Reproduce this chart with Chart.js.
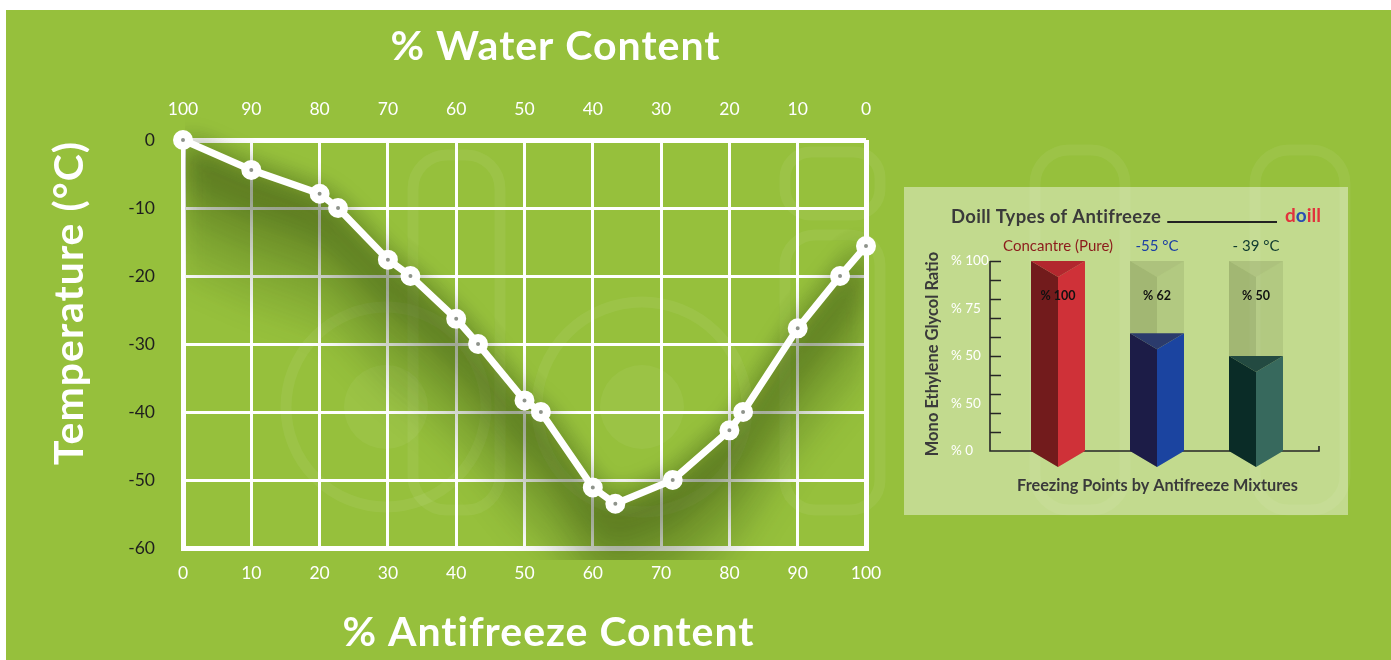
<!DOCTYPE html>
<html>
<head>
<meta charset="utf-8">
<title>Freezing Point of Antifreeze Mixtures</title>
<script src="https://cdn.jsdelivr.net/npm/chart.js@4.4.1/dist/chart.umd.min.js"></script>
<style>
  html, body { margin: 0; padding: 0; background: #ffffff; }
  #stage { position: relative; width: 1391px; height: 660px; overflow: hidden; }
  #bg { position: absolute; left: 6px; top: 10px; right: 0; bottom: 0; background: #96c03c; }
  #main { position: absolute; left: 0; top: 0; }
  #inset { position: absolute; left: 904px; top: 187px; background: rgba(255, 255, 255, 0.42); }
</style>
</head>
<body>
<div id="stage">
  <div id="bg"></div>
  <canvas id="main" width="1391" height="660"></canvas>
  <canvas id="inset" width="444" height="328"></canvas>
</div>
<script>
// ---- Freezing curve: % antifreeze (x) vs freezing temperature in °C (y)
const antifreezePct = [0, 10, 20, 22.7, 30, 33.3, 40, 43.2, 50, 52.4, 60, 63.3, 71.7, 80, 82, 90, 96.2, 100];
const freezingTemp  = [0, -4.4, -7.9, -10, -17.6, -20, -26.3, -30, -38.3, -40, -51.1, -53.5, -50, -42.7, -40, -27.7, -20, -15.6];

// ---- Product panel: glycol ratio of each antifreeze type
const mixtureLabels  = ['Concantre (Pure)', '-55 °C', '- 39 °C'];
const glycolRatio    = [100, 62, 50];
const containerLevel = [100, 100, 100];
const ratioTickValues = [0, 25, 50, 75, 100];
const ratioTickText   = ['% 0', '% 50', '% 50', '% 75', '% 100'];

const FONT = 'Lato, "Open Sans", sans-serif';

// Faint brand watermark behind the grid
const watermark = {
  id: 'watermark',
  beforeDraw(chart) {
    const ctx = chart.ctx;
    ctx.save();
    ctx.strokeStyle = 'rgba(255,255,255,0.06)';
    ctx.fillStyle = 'rgba(255,255,255,0.05)';
    ctx.lineWidth = 11;
    const ring = (cx, cy, r, ri) => {
      ctx.beginPath(); ctx.arc(cx, cy, r, 0, Math.PI * 2); ctx.stroke();
      ctx.beginPath(); ctx.arc(cx, cy, ri, 0, Math.PI * 2); ctx.fill();
    };
    const pill = (x0, y0, x1, y1, rad) => {
      ctx.beginPath(); ctx.roundRect(x0, y0, x1 - x0, y1 - y0, rad); ctx.stroke();
    };
    ring(386, 407, 100, 42);
    pill(413, 155, 500, 510, 34);
    ring(642, 407, 105, 42);
    pill(785, 152, 880, 215, 26);
    pill(785, 235, 880, 510, 30);
    pill(1035, 150, 1125, 510, 34);
    pill(1255, 150, 1345, 510, 34);
    ctx.restore();
  }
};

// Soft shadow that falls below the curve
const curveShadow = {
  id: 'curveShadow',
  beforeDatasetsDraw(chart) {
    const {ctx, chartArea: a} = chart;
    const pts = chart.getDatasetMeta(0).data.map(p => ({x: p.x, y: p.y}));
    ctx.save();
    ctx.beginPath();
    ctx.rect(a.left + 2, 0, a.right - a.left - 4, a.bottom + 12);
    ctx.clip();
    ctx.filter = 'blur(14px)';
    const layers = [[30, 0.22], [60, 0.19], [95, 0.15], [135, 0.12]];
    for (const [d, alpha] of layers) {
      ctx.beginPath();
      pts.forEach((p, i) => i ? ctx.lineTo(p.x, p.y) : ctx.moveTo(p.x, p.y));
      for (let i = pts.length - 1; i >= 0; i--) ctx.lineTo(pts[i].x, pts[i].y + d);
      ctx.closePath();
      ctx.fillStyle = `rgba(35,55,8,${alpha})`;
      ctx.fill();
    }
    ctx.restore();
  }
};

// Large axis titles
const bigTitles = {
  id: 'bigTitles',
  afterDraw(chart) {
    const {ctx, chartArea: a} = chart;
    const cx = (a.left + a.right) / 2;
    ctx.save();
    ctx.fillStyle = '#ffffff';
    ctx.font = `bold 41px ${FONT}`;
    ctx.letterSpacing = '1px';
    ctx.textAlign = 'center';
    ctx.textBaseline = 'middle';
    ctx.fillText('% Water Content', cx + 31, a.top - 93);
    ctx.fillText('% Antifreeze Content', cx + 24, a.bottom + 85);
    ctx.translate(a.left - 113, (a.top + a.bottom) / 2 - 41);
    ctx.rotate(-Math.PI / 2);
    ctx.fillText('Temperature (°C)', 0, 0);
    ctx.restore();
  }
};

const edgeWidth = (lo, hi) => c => (c.tick && (c.tick.value === lo || c.tick.value === hi)) ? 5 : 3;

new Chart(document.getElementById('main'), {
  type: 'line',
  data: {
    datasets: [{
      data: antifreezePct.map((x, i) => ({x, y: freezingTemp[i]})),
      borderColor: '#ffffff',
      backgroundColor: '#ffffff',
      borderWidth: 7,
      tension: 0,
      fill: false,
      clip: false,
      pointRadius: 6,
      pointBorderWidth: 8,
      pointBackgroundColor: '#8e938b',
      pointBorderColor: '#ffffff',
      pointHoverRadius: 6
    }]
  },
  options: {
    responsive: false,
    animation: false,
    devicePixelRatio: 1,
    layout: {padding: {left: 0, right: 525, top: 0, bottom: 0}},
    plugins: {legend: {display: false}, tooltip: {enabled: false}, colors: {enabled: false}},
    scales: {
      x: {
        type: 'linear', position: 'bottom', min: 0, max: 100,
        ticks: {stepSize: 10, color: '#ffffff', font: {family: FONT, size: 17.5}, padding: 15, maxRotation: 0},
        grid: {color: '#ffffff', lineWidth: edgeWidth(0, 100), drawTicks: false},
        border: {color: '#ffffff', width: 5},
        afterFit: s => { s.height = 112; }
      },
      x2: {
        type: 'linear', position: 'top', min: 0, max: 100, reverse: true,
        ticks: {stepSize: 10, color: '#ffffff', font: {family: FONT, size: 17.5}, padding: 20, maxRotation: 0},
        grid: {display: false, drawTicks: false},
        border: {display: false},
        afterFit: s => { s.height = 140; }
      },
      y: {
        type: 'linear', min: -60, max: 0,
        ticks: {stepSize: 10, color: '#1e1e1e', font: {family: FONT, size: 17.5}, padding: 28},
        grid: {color: '#ffffff', lineWidth: edgeWidth(-60, 0), drawTicks: false},
        border: {color: '#ffffff', width: 5},
        afterFit: s => { s.width = 183; }
      }
    }
  },
  plugins: [watermark, curveShadow, bigTitles]
});

// ---- Product panel
const faceColors = [
  // [left face, right face, top face] for each column
  ['#721b1c', '#cf3138', '#b2272e'],
  ['#1c1c47', '#1b44a0', '#2b3b6c'],
  ['#0a2c27', '#37695d', '#234a41']
];
const containerFaces = ['rgba(60,70,30,0.24)', 'rgba(60,70,30,0.12)', 'rgba(60,70,30,0.16)'];
const labelColors = ['#8b1b1b', '#1b3fa3', '#0f3a2f'];

function drawPrism(ctx, x, top, base, w, dip, cols) {
  const l = x - w / 2, r = x + w / 2;
  ctx.fillStyle = cols[0];
  ctx.beginPath(); ctx.moveTo(l, top); ctx.lineTo(x, top + dip); ctx.lineTo(x, base + dip); ctx.lineTo(l, base); ctx.closePath(); ctx.fill();
  ctx.fillStyle = cols[1];
  ctx.beginPath(); ctx.moveTo(x, top + dip); ctx.lineTo(r, top); ctx.lineTo(r, base); ctx.lineTo(x, base + dip); ctx.closePath(); ctx.fill();
  ctx.fillStyle = cols[2];
  ctx.beginPath(); ctx.moveTo(l, top); ctx.lineTo(r, top); ctx.lineTo(x, top + dip); ctx.closePath(); ctx.fill();
}

const panelAxes = {
  id: 'panelAxes',
  beforeDatasetsDraw(chart) {
    const {ctx, chartArea: a} = chart;
    const ys = chart.scales.y;
    const axX = a.left - 18.5, endX = a.right + 13.5;
    const y0 = ys.getPixelForValue(0), y100 = ys.getPixelForValue(100);
    ctx.save();
    ctx.strokeStyle = '#262626';
    ctx.lineWidth = 1.6;
    ctx.beginPath();
    ctx.moveTo(axX, y100); ctx.lineTo(axX, y0); ctx.lineTo(endX, y0); ctx.lineTo(endX, y0 - 5);
    for (let v = 10; v <= 100; v += 10) {
      const py = Math.round(ys.getPixelForValue(v)) + 0.5;
      ctx.moveTo(axX, py); ctx.lineTo(axX + 11, py);
    }
    ctx.stroke();
    ctx.restore();
  }
};

const prismBars = {
  id: 'prismBars',
  afterDatasetsDraw(chart) {
    const {ctx, chartArea: a} = chart;
    ctx.save();
    chart.data.datasets.forEach((ds, di) => {
      chart.getDatasetMeta(di).data.forEach((bar, i) => {
        const cols = di === 0 ? containerFaces : faceColors[i];
        drawPrism(ctx, bar.x, bar.y, bar.base, bar.width, 16, cols);
      });
    });
    // value labels inside each column
    const meta = chart.getDatasetMeta(1);
    ctx.fillStyle = '#111111';
    ctx.font = `bold 12.5px ${FONT}`;
    ctx.textAlign = 'center';
    ctx.textBaseline = 'middle';
    meta.data.forEach((bar, i) => {
      ctx.fillText('% ' + glycolRatio[i], bar.x, a.top + 35);
    });
    ctx.restore();
  }
};

const panelTitles = {
  id: 'panelTitles',
  afterDraw(chart) {
    const {ctx, chartArea: a} = chart;
    const axX = a.left - 18.5, endX = a.right + 13.5;
    ctx.save();
    ctx.fillStyle = '#3a3a3a';
    ctx.textBaseline = 'middle';
    ctx.textAlign = 'left';
    ctx.font = `bold 18.5px ${FONT}`;
    ctx.letterSpacing = '0.3px';
    const title = 'Doill Types of Antifreeze';
    ctx.fillText(title, 47, 30);
    const tw = ctx.measureText(title).width;
    ctx.strokeStyle = '#222222';
    ctx.lineWidth = 2;
    ctx.beginPath(); ctx.moveTo(47 + tw + 6, 35); ctx.lineTo(373, 35); ctx.stroke();
    // brand mark
    ctx.letterSpacing = '0px';
    ctx.font = `bold 19px ${FONT}`;
    let lx = 381;
    [['d', '#e1323c'], ['o', '#2a4fb2'], ['ill', '#e1323c']].forEach(([t, c]) => {
      ctx.fillStyle = c; ctx.fillText(t, lx, 29); lx += ctx.measureText(t).width;
    });
    // axis titles
    ctx.fillStyle = '#3a3a3a';
    ctx.textAlign = 'center';
    ctx.font = `bold 16.3px ${FONT}`;
    ctx.fillText('Freezing Points by Antifreeze Mixtures', (axX + endX) / 2 + 3, a.bottom + 35);
    ctx.translate(29, (a.top + a.bottom) / 2 - 2);
    ctx.rotate(-Math.PI / 2);
    ctx.font = `bold 16.5px ${FONT}`;
    ctx.fillText('Mono Ethylene Glycol Ratio', 0, 0);
    ctx.restore();
  }
};

new Chart(document.getElementById('inset'), {
  type: 'bar',
  data: {
    labels: mixtureLabels,
    datasets: [
      {label: 'Capacity', data: containerLevel, backgroundColor: 'rgba(0,0,0,0)', borderWidth: 0},
      {label: 'Mono ethylene glycol', data: glycolRatio, backgroundColor: 'rgba(0,0,0,0)', borderWidth: 0}
    ]
  },
  options: {
    responsive: false,
    animation: false,
    devicePixelRatio: 1,
    layout: {padding: {left: 47, right: 42.5, top: 0, bottom: 64}},
    datasets: {bar: {grouped: false, barThickness: 54}},
    plugins: {legend: {display: false}, tooltip: {enabled: false}, colors: {enabled: false}},
    scales: {
      x: {
        position: 'top',
        grid: {display: false, drawTicks: false},
        border: {display: false},
        ticks: {color: c => labelColors[c.index], font: {family: FONT, size: 15}, padding: 6, maxRotation: 0, autoSkip: false},
        afterFit: s => { s.height = 74; }
      },
      y: {
        min: 0, max: 100,
        afterBuildTicks: s => { s.ticks = ratioTickValues.map(v => ({value: v})); },
        ticks: {
          color: '#ffffff', font: {family: FONT, size: 13.5}, crossAlign: 'far', padding: 4,
          callback: v => ratioTickText[ratioTickValues.indexOf(v)]
        },
        grid: {display: false, drawTicks: false},
        border: {display: false},
        afterFit: s => { s.width = 57.5; }
      }
    }
  },
  plugins: [panelAxes, prismBars, panelTitles]
});
</script>
</body>
</html>
